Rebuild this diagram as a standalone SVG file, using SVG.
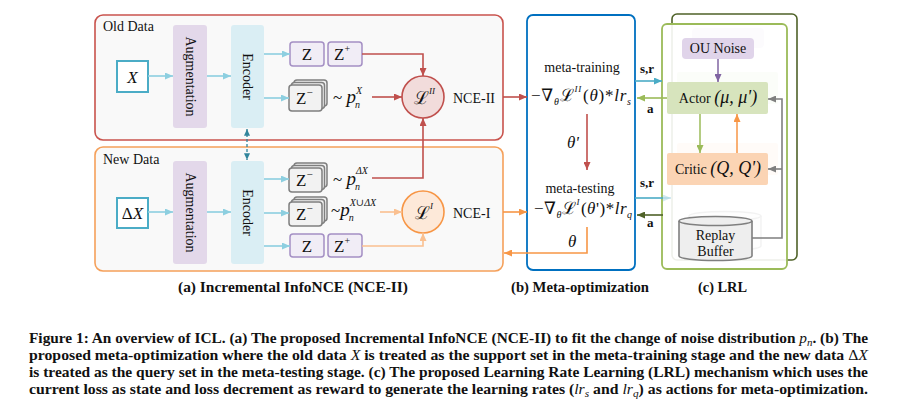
<svg xmlns="http://www.w3.org/2000/svg" width="901" height="417" viewBox="0 0 901 417">
<style>
text{font-family:"Liberation Serif","DejaVu Serif",serif;fill:#111}
.t14{font-size:14px}
.m{font-style:italic;font-size:17px}
.sm{font-style:italic;font-size:10px}
.b{font-weight:bold}
.scr{font-family:"DejaVu Serif",serif;font-style:normal}
.lb{stroke:#8dcfe0;stroke-width:1.6;fill:none}
.red{stroke:#c0504d;stroke-width:1.6;fill:none}
.or{stroke:#f79646;stroke-width:1.6;fill:none}
.lor{stroke:#fac090;stroke-width:1.6;fill:none}
.gy{stroke:#7f7f7f;stroke-width:1.6;fill:none}
.zb{fill:#f1edf6;stroke:#a48fc4;stroke-width:1.5}
.zn{fill:#f2f2f2;stroke:#7f7f7f;stroke-width:1.5}
.aug{fill:#e3d8ea}
.enc{fill:#daeef4}
.cap{font-size:14px;font-weight:bold}
</style>
<defs>
<marker id="a-lb" viewBox="0 0 8 7" refX="8" refY="3.5" markerWidth="8" markerHeight="7" markerUnits="userSpaceOnUse" orient="auto"><path d="M0,0L8,3.5L0,7z" fill="#8dcfe0"/></marker>
<marker id="a-red" viewBox="0 0 8 7" refX="8" refY="3.5" markerWidth="8" markerHeight="7" markerUnits="userSpaceOnUse" orient="auto"><path d="M0,0L8,3.5L0,7z" fill="#c0504d"/></marker>
<marker id="a-or" viewBox="0 0 8 7" refX="8" refY="3.5" markerWidth="8" markerHeight="7" markerUnits="userSpaceOnUse" orient="auto"><path d="M0,0L8,3.5L0,7z" fill="#f79646"/></marker>
<marker id="a-lor" viewBox="0 0 8 7" refX="8" refY="3.5" markerWidth="8" markerHeight="7" markerUnits="userSpaceOnUse" orient="auto"><path d="M0,0L8,3.5L0,7z" fill="#fac090"/></marker>
<marker id="a-dt" viewBox="0 0 8 7" refX="8" refY="3.5" markerWidth="7" markerHeight="6" markerUnits="userSpaceOnUse" orient="auto-start-reverse"><path d="M0,0L8,3.5L0,7z" fill="#31859c"/></marker>
<marker id="a-teal" viewBox="0 0 8 7" refX="8" refY="3.5" markerWidth="8" markerHeight="7" markerUnits="userSpaceOnUse" orient="auto"><path d="M0,0L8,3.5L0,7z" fill="#4bacc6"/></marker>
<marker id="a-teal2" viewBox="0 0 8 7" refX="8" refY="3.5" markerWidth="8" markerHeight="7" markerUnits="userSpaceOnUse" orient="auto"><path d="M0,0L8,3.5L0,7z" fill="#4bacc6" fill-opacity="0.25"/></marker>
<marker id="a-gr" viewBox="0 0 8 7" refX="8" refY="3.5" markerWidth="8" markerHeight="7" markerUnits="userSpaceOnUse" orient="auto"><path d="M0,0L8,3.5L0,7z" fill="#9bbb59"/></marker>
<marker id="a-dg" viewBox="0 0 8 7" refX="8" refY="3.5" markerWidth="8" markerHeight="7" markerUnits="userSpaceOnUse" orient="auto"><path d="M0,0L8,3.5L0,7z" fill="#4f6228"/></marker>
<marker id="a-pu" viewBox="0 0 8 7" refX="8" refY="3.5" markerWidth="8" markerHeight="7" markerUnits="userSpaceOnUse" orient="auto"><path d="M0,0L8,3.5L0,7z" fill="#8064a2"/></marker>
<marker id="a-gy" viewBox="0 0 8 7" refX="8" refY="3.5" markerWidth="8" markerHeight="7" markerUnits="userSpaceOnUse" orient="auto"><path d="M0,0L8,3.5L0,7z" fill="#7f7f7f"/></marker>
</defs>

<!-- Panel (a): Old Data -->
<g id="old-data">
<rect x="95" y="15" width="408" height="125" rx="8" fill="#f9f9f9" stroke="#c9534d" stroke-width="1.6"/>
<text class="t14" x="103" y="31">Old Data</text>
</g>
<g id="old-x"><rect x="117" y="61" width="31" height="31" fill="#fff" stroke="#4bacc6" stroke-width="2"/><text class="m" x="132.5" y="83" text-anchor="middle" font-size="18">X</text></g>
<g id="old-aug"><rect class="aug" x="173" y="25" width="34" height="103" rx="3"/><text class="t14" transform="translate(190,76.5) rotate(90)" text-anchor="middle" dominant-baseline="central">Augmentation</text></g>
<g id="old-enc"><rect class="enc" x="231" y="25" width="33" height="103" rx="3"/><text class="t14" transform="translate(247.5,76.5) rotate(90)" text-anchor="middle" dominant-baseline="central">Encoder</text></g>
<g id="old-z"><rect class="zb" x="290" y="42" width="34" height="24" rx="3"/><text x="307" y="60" font-size="17" text-anchor="middle">Z</text></g>
<g id="old-zplus"><rect class="zb" x="328" y="42" width="34" height="24" rx="3"/><text x="334" y="60" font-size="17">Z<tspan font-size="10" dy="-8">+</tspan></text></g>
<g id="old-zminus">
<rect class="zn" x="294" y="80" width="33" height="26" rx="3"/>
<rect class="zn" x="291.5" y="82.5" width="33" height="26" rx="3"/>
<rect class="zn" x="289" y="85" width="33" height="26" rx="3"/>
<text x="296" y="104" font-size="17">Z<tspan font-size="11" dy="-8">−</tspan></text>
</g>
<g id="old-pn"><text x="333" y="103" font-size="17">~ <tspan font-size="19" font-style="italic">p</tspan><tspan class="sm" dy="5" dx="-1">n</tspan><tspan class="sm" dy="-14" dx="-4">X</tspan></text></g>
<g id="loss-ii"><circle cx="423" cy="97" r="21" fill="#f2dcdb" stroke="#c0504d" stroke-width="1.6"/><text x="414" y="104" font-size="18"><tspan class="scr">ℒ</tspan><tspan font-size="9" font-style="italic" dy="-10">II</tspan></text></g>
<g id="nce-ii"><text class="t14" x="453" y="103">NCE-II</text></g>

<!-- Panel (a): New Data -->
<g id="new-data">
<rect x="95" y="147" width="408" height="124" rx="8" fill="#f9f9f9" stroke="#f5a05a" stroke-width="1.6"/>
<text class="t14" x="103" y="164">New Data</text>
</g>
<g id="new-x"><rect x="117" y="198" width="31" height="30" fill="#fff" stroke="#4bacc6" stroke-width="2"/><text x="132.5" y="219" font-size="17" text-anchor="middle">Δ<tspan font-style="italic">X</tspan></text></g>
<g id="new-aug"><rect class="aug" x="173" y="161" width="34" height="103" rx="3"/><text class="t14" transform="translate(190,212.5) rotate(90)" text-anchor="middle" dominant-baseline="central">Augmentation</text></g>
<g id="new-enc"><rect class="enc" x="231" y="161" width="33" height="103" rx="3"/><text class="t14" transform="translate(247.5,212.5) rotate(90)" text-anchor="middle" dominant-baseline="central">Encoder</text></g>
<g id="new-zminus1">
<rect class="zn" x="294" y="163" width="33" height="24" rx="3"/>
<rect class="zn" x="291.5" y="165.5" width="33" height="24" rx="3"/>
<rect class="zn" x="289" y="168" width="33" height="24" rx="3"/>
<text x="296" y="186" font-size="17">Z<tspan font-size="11" dy="-8">−</tspan></text>
</g>
<g id="new-pn1"><text x="333" y="185" font-size="17">~ <tspan font-size="19" font-style="italic">p</tspan><tspan class="sm" dy="5" dx="-1">n</tspan><tspan class="sm" dy="-16" dx="-4">Δ<tspan>X</tspan></tspan></text></g>
<g id="new-zminus2">
<rect class="zn" x="294" y="197" width="33" height="24" rx="3"/>
<rect class="zn" x="291.5" y="199.5" width="33" height="24" rx="3"/>
<rect class="zn" x="289" y="202" width="33" height="24" rx="3"/>
<text x="296" y="220" font-size="17">Z<tspan font-size="11" dy="-8">−</tspan></text>
</g>
<g id="new-pn2"><text x="331" y="216" font-size="17">~<tspan font-size="19" font-style="italic">p</tspan><tspan class="sm" dy="5" dx="-1">n</tspan><tspan class="sm" dy="-15" dx="-4">X∪ΔX</tspan></text></g>
<g id="new-z"><rect class="zb" x="290" y="234" width="34" height="23" rx="3"/><text x="307" y="252" font-size="17" text-anchor="middle">Z</text></g>
<g id="new-zplus"><rect class="zb" x="328" y="234" width="34" height="23" rx="3"/><text x="334" y="252" font-size="17">Z<tspan font-size="10" dy="-8">+</tspan></text></g>
<g id="loss-i"><circle cx="423" cy="212" r="21" fill="#fde9d9" stroke="#f79646" stroke-width="1.6"/><text x="415" y="219" font-size="18"><tspan class="scr">ℒ</tspan><tspan font-size="9" font-style="italic" dy="-10">I</tspan></text></g>
<g id="nce-i"><text class="t14" x="453" y="218">NCE-I</text></g>

<!-- Panel (b) -->
<g id="meta-box">
<rect x="527" y="15" width="108" height="255" rx="6" fill="#fff" stroke="#0070c0" stroke-width="1.8"/>
<text class="t14" x="582" y="72" text-anchor="middle">meta-training</text>
<text font-size="17" x="531" y="101" textLength="100" lengthAdjust="spacing">−∇<tspan font-size="10" font-style="italic" dy="4">θ</tspan><tspan class="scr" dy="-4">ℒ</tspan><tspan font-size="9" font-style="italic" dy="-9">II</tspan><tspan dy="9" dx="1">(</tspan><tspan font-style="italic">θ</tspan>)*<tspan font-style="italic">lr</tspan><tspan font-size="10" font-style="italic" dy="4">s</tspan></text>
<text x="567" y="148" font-size="17" font-style="italic">θ'</text>
<text class="t14" x="580" y="193" text-anchor="middle">meta-testing</text>
<text font-size="17" x="534" y="214" textLength="98" lengthAdjust="spacing">−∇<tspan font-size="10" font-style="italic" dy="4">θ</tspan><tspan class="scr" dy="-4">ℒ</tspan><tspan font-size="9" font-style="italic" dy="-9">I</tspan><tspan dy="9" dx="1">(</tspan><tspan font-style="italic">θ</tspan>')*<tspan font-style="italic">lr</tspan><tspan font-size="10" font-style="italic" dy="4">q</tspan></text>
<text x="568" y="247" font-size="17" font-style="italic">θ</text>
</g>

<!-- Panel (c) -->
<g id="lrl-back">
<rect x="672" y="14" width="125" height="246" rx="5" fill="#fff" stroke="#4f6228" stroke-width="1.6"/>
<rect x="692" y="28" width="72" height="20" rx="4" fill="#e0d4ea"/>
<rect x="677" y="72" width="101" height="32" rx="2" fill="#d7e4bd"/>
<rect x="677" y="143" width="101" height="32" rx="2" fill="#fbd4b4"/>
<path d="M689,216v30a36,4.5 0 0 0 72,0v-30" fill="#eee" stroke="#7f7f7f" stroke-width="1.5"/>
<ellipse cx="725" cy="216" rx="36" ry="4.5" fill="#eee" stroke="#7f7f7f" stroke-width="1.5"/>
</g>
<g id="lrl-front"><rect x="662" y="24" width="125" height="245" rx="5" fill="#fff" fill-opacity="0.9" stroke="#9bbb59" stroke-width="1.8"/></g>
<g id="ou-noise"><rect x="682" y="38" width="72" height="21" rx="4" fill="#e0d4ea"/><text class="t14" x="718" y="53" text-anchor="middle">OU Noise</text></g>
<g id="actor"><rect x="667" y="82" width="101" height="32" rx="2" fill="#d7e4bd"/><text x="718" y="103" text-anchor="middle"><tspan font-size="14">Actor </tspan><tspan font-size="18" font-style="italic">(μ, μ')</tspan></text></g>
<g id="critic"><rect x="667" y="153" width="101" height="32" rx="2" fill="#fbd4b4"/><text x="718" y="174" text-anchor="middle"><tspan font-size="14">Critic </tspan><tspan font-size="18" font-style="italic">(Q, Q')</tspan></text></g>
<g id="replay-buffer">
<path d="M679,221v35a36.5,4.5 0 0 0 73,0v-35" fill="#eee" stroke="#7f7f7f" stroke-width="1.6"/>
<ellipse cx="715.5" cy="221" rx="36.5" ry="4.5" fill="#eee" stroke="#7f7f7f" stroke-width="1.6"/>
<text class="t14" x="715.5" y="240" text-anchor="middle">Replay</text>
<text class="t14" x="715.5" y="256" text-anchor="middle">Buffer</text>
</g>

<!-- Connectors -->
<g id="connectors">
<line class="lb" x1="148" y1="76" x2="173" y2="76" marker-end="url(#a-lb)"/>
<line class="lb" x1="207" y1="76" x2="231" y2="76" marker-end="url(#a-lb)"/>
<line class="lb" x1="264" y1="54" x2="290" y2="54" marker-end="url(#a-lb)"/>
<line class="lb" x1="264" y1="98" x2="289" y2="98" marker-end="url(#a-lb)"/>
<line class="lb" x1="148" y1="212" x2="173" y2="212" marker-end="url(#a-lb)"/>
<line class="lb" x1="207" y1="212" x2="231" y2="212" marker-end="url(#a-lb)"/>
<line class="lb" x1="264" y1="179" x2="289" y2="179" marker-end="url(#a-lb)"/>
<line class="lb" x1="264" y1="213" x2="289" y2="213" marker-end="url(#a-lb)"/>
<line class="lb" x1="264" y1="246" x2="290" y2="246" marker-end="url(#a-lb)"/>
<line x1="247" y1="129" x2="247" y2="160" stroke="#31859c" stroke-width="1.3" stroke-dasharray="3,2" marker-start="url(#a-dt)" marker-end="url(#a-dt)"/>
<path class="red" d="M362,54H423V76" marker-end="url(#a-red)"/>
<line class="red" x1="372" y1="97" x2="402" y2="97" marker-end="url(#a-red)"/>
<path class="red" d="M372,178H423V118" marker-end="url(#a-red)"/>
<line class="red" x1="503" y1="97" x2="527" y2="97" marker-end="url(#a-red)"/>
<line class="red" x1="587" y1="114" x2="587" y2="170" marker-end="url(#a-red)"/>
<line class="lor" x1="380" y1="212" x2="402" y2="212" marker-end="url(#a-lor)"/>
<path class="lor" d="M362,246H423V233" marker-end="url(#a-lor)"/>
<line class="or" x1="503" y1="212" x2="527" y2="212" marker-end="url(#a-or)"/>
<path class="or" d="M587,227V253H504" marker-end="url(#a-or)"/>
<line x1="635" y1="81" x2="662" y2="81" stroke="#4bacc6" stroke-width="1.6" marker-end="url(#a-teal)"/>
<line x1="667" y1="98" x2="637" y2="98" stroke="#9bbb59" stroke-width="1.6" marker-end="url(#a-gr)"/>
<line x1="635" y1="198" x2="663" y2="198" stroke="#4bacc6" stroke-width="1.6"/>
<line x1="663" y1="198" x2="671" y2="198" stroke="#4bacc6" stroke-opacity="0.25" stroke-width="1.6" marker-end="url(#a-teal2)"/>
<line x1="663" y1="215" x2="637" y2="215" stroke="#4f6228" stroke-width="1.6" marker-end="url(#a-dg)"/>
<line x1="718" y1="59" x2="718" y2="82" stroke="#8064a2" stroke-width="1.5" marker-end="url(#a-pu)"/>
<line x1="700" y1="114" x2="700" y2="153" stroke="#9bbb59" stroke-width="1.5" marker-end="url(#a-gr)"/>
<line x1="737" y1="153" x2="737" y2="114" stroke="#f79646" stroke-width="1.5" marker-end="url(#a-or)"/>
<path class="gy" d="M752,238H782V99H768" marker-end="url(#a-gy)"/>
<line class="gy" x1="782" y1="169" x2="768" y2="169" marker-end="url(#a-gy)"/>
<text class="b" font-size="13" x="640" y="73">s,r</text>
<text class="b" font-size="13" x="647" y="113">a</text>
<text class="b" font-size="13" x="640" y="187">s,r</text>
<text class="b" font-size="13" x="647" y="227">a</text>
</g>

<!-- Sub-captions -->
<g id="subcaptions">
<text class="cap" x="178" y="292" textLength="230" lengthAdjust="spacingAndGlyphs">(a) Incremental InfoNCE (NCE-II)</text>
<text class="cap" x="511" y="292" textLength="138" lengthAdjust="spacingAndGlyphs">(b) Meta-optimization</text>
<text class="cap" x="698" y="292" textLength="49" lengthAdjust="spacingAndGlyphs">(c) LRL</text>
</g>

<!-- Figure caption -->
<g id="caption">
<text class="cap" x="29" y="343" textLength="839" lengthAdjust="spacingAndGlyphs">Figure 1: An overview of ICL. (a) The proposed Incremental InfoNCE (NCE-II) to fit the change of noise distribution <tspan font-style="italic" font-weight="normal">p</tspan><tspan font-style="italic" font-weight="normal" font-size="10" dy="3">n</tspan><tspan dy="-3">. (b) The</tspan></text>
<text class="cap" x="29" y="360" textLength="839" lengthAdjust="spacingAndGlyphs">proposed meta-optimization where the old data <tspan font-style="italic" font-weight="normal">X</tspan> is treated as the support set in the meta-training stage and the new data <tspan font-weight="normal">Δ</tspan><tspan font-style="italic" font-weight="normal">X</tspan></text>
<text class="cap" x="29" y="377" textLength="839" lengthAdjust="spacingAndGlyphs">is treated as the query set in the meta-testing stage. (c) The proposed Learning Rate Learning (LRL) mechanism which uses the</text>
<text class="cap" x="29" y="394" textLength="839" lengthAdjust="spacingAndGlyphs">current loss as state and loss decrement as reward to generate the learning rates (<tspan font-style="italic" font-weight="normal">lr</tspan><tspan font-style="italic" font-weight="normal" font-size="10" dy="3">s</tspan><tspan dy="-3"> and </tspan><tspan font-style="italic" font-weight="normal">lr</tspan><tspan font-style="italic" font-weight="normal" font-size="10" dy="3">q</tspan><tspan dy="-3">) as actions for meta-optimization.</tspan></text>
</g>
</svg>
